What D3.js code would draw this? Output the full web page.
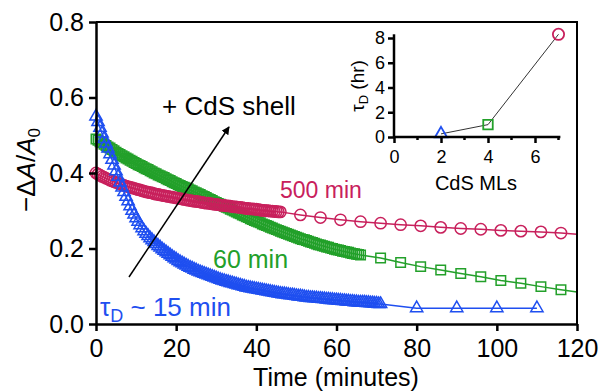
<!DOCTYPE html>
<html>
<head>
<meta charset="utf-8">
<script src="https://cdn.jsdelivr.net/npm/d3@7"></script>
<style>
  body { margin: 0; background: #fff; }
  svg { display: block; font-family: "Liberation Sans", Arial, sans-serif; }
</style>
</head>
<body>
<script>
// colours of the three shell thicknesses
var blue = "#1f4ff0", green = "#23a02a", pink = "#c8205c";

// dense part: one reading every half minute, starting at t = 0
var denseStep = 0.5;
var blueDense = [
  .550,.535,.520,.505,.490,.478,.465,.450,.435,.420,.405,.390,.375,.362,.350,.337,.325,.312,.300,.290,
  .280,.271,.262,.254,.246,.239,.233,.227,.222,.217,.212,.207,.203,.198,.194,.190,.186,.182,.178,.174,
  .171,.167,.164,.161,.158,.155,.152,.149,.147,.144,.142,.139,.137,.135,.133,.131,.129,.127,.125,.123,
  .121,.119,.117,.115,.114,.112,.111,.109,.108,.106,.105,.103,.102,.100,.099,.097,.096,.095,.094,.093,
  .092,.091,.090,.089,.088,.087,.086,.085,.084,.083,.082,.081,.080,.079,.079,.078,.077,.076,.076,.075,
  .074,.073,.073,.072,.071,.070,.070,.069,.069,.068,.068,.067,.067,.066,.066,.065,.065,.064,.064,.063,
  .063,.062,.062,.061,.061,.060,.060,.059,.059,.058,.058,.057,.057,.057,.057,.056,.056,.055,.055,.054,
  .054,.053,.053];
var blueSparseT = [80, 90, 100, 110];
var blueSparse  = [0.042, 0.042, 0.042, 0.042];

var greenDense = [
  .490,.487,.483,.480,.476,.473,.469,.466,.462,.459,.455,.452,.449,.446,.443,.440,.437,.434,.431,.428,
  .425,.422,.420,.417,.414,.411,.409,.406,.403,.400,.398,.395,.393,.390,.388,.385,.382,.380,.377,.374,
  .372,.369,.367,.364,.362,.360,.358,.355,.353,.350,.348,.345,.343,.340,.338,.335,.332,.330,.327,.324,
  .322,.319,.317,.314,.312,.309,.307,.304,.302,.299,.297,.294,.292,.289,.287,.284,.282,.279,.277,.274,
  .272,.270,.268,.265,.263,.261,.259,.256,.254,.252,.250,.248,.246,.244,.242,.240,.238,.236,.234,.232,
  .230,.228,.226,.224,.223,.221,.219,.217,.216,.214,.212,.210,.209,.207,.206,.204,.203,.201,.200,.198,
  .197,.196,.195,.193,.192,.191,.190,.188,.187,.186,.185,.184,.183];
var greenSparseT = [71, 76, 81, 86, 91, 96, 101, 106, 111, 116];
var greenSparse  = [0.175, 0.163, 0.152, 0.143, 0.134, 0.125, 0.115, 0.108, 0.099, 0.091];
var greenEnd = [120, 0.085];

var pinkDense = [
  .400,.397,.394,.391,.389,.386,.384,.381,.379,.377,.375,.373,.371,.369,.367,.365,.364,.362,.361,.359,
  .358,.356,.355,.353,.352,.350,.349,.348,.347,.345,.344,.343,.342,.341,.340,.339,.338,.337,.336,.335,
  .334,.333,.332,.331,.330,.329,.328,.327,.326,.325,.325,.324,.323,.322,.321,.320,.320,.319,.318,.317,
  .317,.316,.315,.314,.314,.313,.313,.312,.311,.310,.310,.309,.309,.308,.307,.306,.306,.305,.305,.304,
  .304,.303,.302,.301,.301,.300,.300,.299,.299,.298,.298,.297,.297];
var pinkSparseT = [51, 56, 61, 66, 71, 76, 81, 86, 91, 96, 101, 106, 111, 116];
var pinkSparse  = [0.289, 0.282, 0.276, 0.271, 0.267, 0.263, 0.260, 0.256, 0.253, 0.251, 0.248, 0.246, 0.244, 0.241];
var pinkEnd = [120, 0.238];

var xTicks = [0, 20, 40, 60, 80, 100, 120];
var yTicks = [0, 0.2, 0.4, 0.6, 0.8];

// inset: decay time vs CdS monolayers
var insetML  = [2, 4, 7];
var insetTau = [0.25, 1.0, 8.3];
var insetXTicks = [0, 2, 4, 6];
var insetXMinor = [1, 3, 5, 7];
var insetYTicks = [0, 2, 4, 6, 8];

function toPts(dense, sparseT, sparse) {
    var pts = dense.map(function(v, i) { return [i * denseStep, v]; });
    sparseT.forEach(function(t, i) { pts.push([t, sparse[i]]); });
    return pts;
}

var svg = d3.select("body").append("svg")
    .attr("width", 603)
    .attr("height", 392);

var x = d3.scaleLinear().domain([0, 120]).range([96, 577]);
var y = d3.scaleLinear().domain([0, 0.8]).range([324, 22]);

var line = d3.line()
    .x(function(d) { return x(d[0]); })
    .y(function(d) { return y(d[1]); });

var series = [
    {pts: toPts(greenDense, greenSparseT, greenSparse), end: greenEnd, color: green, shape: "square"},
    {pts: toPts(pinkDense, pinkSparseT, pinkSparse), end: pinkEnd, color: pink, shape: "circle"},
    {pts: toPts(blueDense, blueSparseT, blueSparse), end: null, color: blue, shape: "triangle"}
];

var symbols = {
    square: d3.symbol().type(d3.symbolSquare).size(90),
    circle: d3.symbol().type(d3.symbolCircle).size(100),
    triangle: d3.symbol().type(d3.symbolTriangle).size(65)
};

series.forEach(function(s) {
    var linePts = s.end ? s.pts.concat([s.end]) : s.pts;
    svg.append("path")
        .attr("d", line(linePts))
        .attr("fill", "none")
        .attr("stroke", s.color)
        .attr("stroke-width", 1.5);
    svg.append("g").selectAll("path")
        .data(s.pts)
        .join("path")
        .attr("transform", function(d) { return "translate(" + x(d[0]) + "," + y(d[1]) + ")"; })
        .attr("d", symbols[s.shape])
        .attr("fill", "none")
        .attr("stroke", s.color)
        .attr("stroke-width", 1.5);
});

// frame
svg.append("path")
    .attr("d", "M" + x(0) + "," + y(0.8) + "H" + x(120) + "V" + y(0))
    .attr("fill", "none")
    .attr("stroke", "#000")
    .attr("stroke-width", 2);

var xAxis = svg.append("g")
    .attr("transform", "translate(0," + y(0) + ")")
    .call(d3.axisBottom(x).tickValues(xTicks).tickSize(7).tickPadding(8).tickSizeOuter(0));
var yAxis = svg.append("g")
    .attr("transform", "translate(" + x(0) + ",0)")
    .call(d3.axisLeft(y).tickValues(yTicks).tickFormat(d3.format(".1f")).tickSize(7).tickPadding(5).tickSizeOuter(0));

[xAxis, yAxis].forEach(function(a) {
    a.selectAll("path.domain").attr("stroke-width", 2.5);
    a.selectAll("line").attr("stroke-width", 2.5);
    a.selectAll("text").attr("font-size", 25).attr("fill", "#000")
        .attr("font-family", "Liberation Sans, Arial, sans-serif");
});

// axis titles
svg.append("text")
    .attr("x", 336).attr("y", 386)
    .attr("text-anchor", "middle")
    .attr("font-size", 25)
    .text("Time (minutes)");

var yTitle = svg.append("text")
    .attr("transform", "translate(35,170) rotate(-90)")
    .attr("text-anchor", "middle")
    .attr("font-size", 26);
yTitle.append("tspan").text("\u2212\u0394");
yTitle.append("tspan").attr("font-style", "italic").text("A");
yTitle.append("tspan").text("/");
yTitle.append("tspan").attr("font-style", "italic").text("A");
yTitle.append("tspan").attr("font-size", 17).attr("dy", 5).text("0");

// annotations
svg.append("defs").append("marker")
    .attr("id", "head")
    .attr("viewBox", "0 0 10 10")
    .attr("refX", 9).attr("refY", 5)
    .attr("markerWidth", 8).attr("markerHeight", 8)
    .attr("markerUnits", "userSpaceOnUse")
    .attr("orient", "auto")
    .append("path")
    .attr("d", "M0,0L10,5L0,10Z")
    .attr("fill", "#000");

svg.append("line")
    .attr("x1", 129).attr("y1", 277)
    .attr("x2", 229).attr("y2", 127)
    .attr("stroke", "#000")
    .attr("stroke-width", 1.5)
    .attr("marker-end", "url(#head)");

svg.append("text")
    .attr("x", 162).attr("y", 115)
    .attr("font-size", 26)
    .text("+ CdS shell");

svg.append("text")
    .attr("x", 280).attr("y", 198)
    .attr("font-size", 23)
    .attr("fill", pink)
    .text("500 min");

svg.append("text")
    .attr("x", 213).attr("y", 268)
    .attr("font-size", 25)
    .attr("fill", green)
    .text("60 min");

var tauLabel = svg.append("text")
    .attr("x", 100).attr("y", 316)
    .attr("font-size", 26)
    .attr("fill", blue);
tauLabel.append("tspan").text("\u03c4");
tauLabel.append("tspan").attr("font-size", 18).attr("dy", 6).text("D");
tauLabel.append("tspan").attr("dy", -6).text(" ~ 15 min");

// inset
var ix = d3.scaleLinear().domain([0, 7]).range([394, 558.5]);
var iy = d3.scaleLinear().domain([0, 8]).range([137, 38]);

var inset = svg.append("g");

inset.append("path")
    .attr("d", d3.line().x(function(d) { return ix(d[0]); }).y(function(d) { return iy(d[1]); })(insetML.map(function(m, i) { return [m, insetTau[i]]; })))
    .attr("fill", "none")
    .attr("stroke", "#333")
    .attr("stroke-width", 1);

var insetShapes = ["triangle", "square", "circle"];
var insetColors = [blue, green, pink];
inset.selectAll("path.pt")
    .data(insetML)
    .join("path")
    .attr("class", "pt")
    .attr("transform", function(d, i) { return "translate(" + ix(d) + "," + iy(insetTau[i]) + ")"; })
    .attr("d", function(d, i) { return symbols[insetShapes[i]](); })
    .attr("fill", "none")
    .attr("stroke", function(d, i) { return insetColors[i]; })
    .attr("stroke-width", 1.8);

var ixAxis = inset.append("g")
    .attr("transform", "translate(0," + iy(0) + ")")
    .call(d3.axisBottom(ix).tickValues(insetXTicks).tickFormat(d3.format("d")).tickSize(6).tickPadding(7).tickSizeOuter(0));
ixAxis.append("g").selectAll("line")
    .data(insetXMinor)
    .join("line")
    .attr("x1", ix).attr("x2", ix)
    .attr("y1", 0).attr("y2", 3)
    .attr("stroke", "#000");
ixAxis.select("path.domain").attr("d", "M" + ix(0) + ",0H" + ix(7.08));

var iyAxis = inset.append("g")
    .attr("transform", "translate(" + ix(0) + ",0)")
    .call(d3.axisLeft(iy).tickValues(insetYTicks).tickFormat(d3.format("d")).tickSize(6).tickPadding(3).tickSizeOuter(0));
iyAxis.select("path.domain").attr("d", "M0," + iy(0) + "V" + iy(8.3));

[ixAxis, iyAxis].forEach(function(a) {
    a.selectAll("path.domain").attr("stroke-width", 2.5);
    a.selectAll("line").attr("stroke-width", 2.5);
    a.selectAll("text").attr("font-size", 18).attr("fill", "#000")
        .attr("font-family", "Liberation Sans, Arial, sans-serif");
});

inset.append("text")
    .attr("x", 476).attr("y", 190)
    .attr("text-anchor", "middle")
    .attr("font-size", 20)
    .text("CdS MLs");

var iyTitle = inset.append("text")
    .attr("transform", "translate(364,86) rotate(-90)")
    .attr("text-anchor", "middle")
    .attr("font-size", 19);
iyTitle.append("tspan").text("\u03c4");
iyTitle.append("tspan").attr("font-size", 13).attr("dy", 4).text("D");
iyTitle.append("tspan").attr("dy", -4).text(" (hr)");
</script>
</body>
</html>
